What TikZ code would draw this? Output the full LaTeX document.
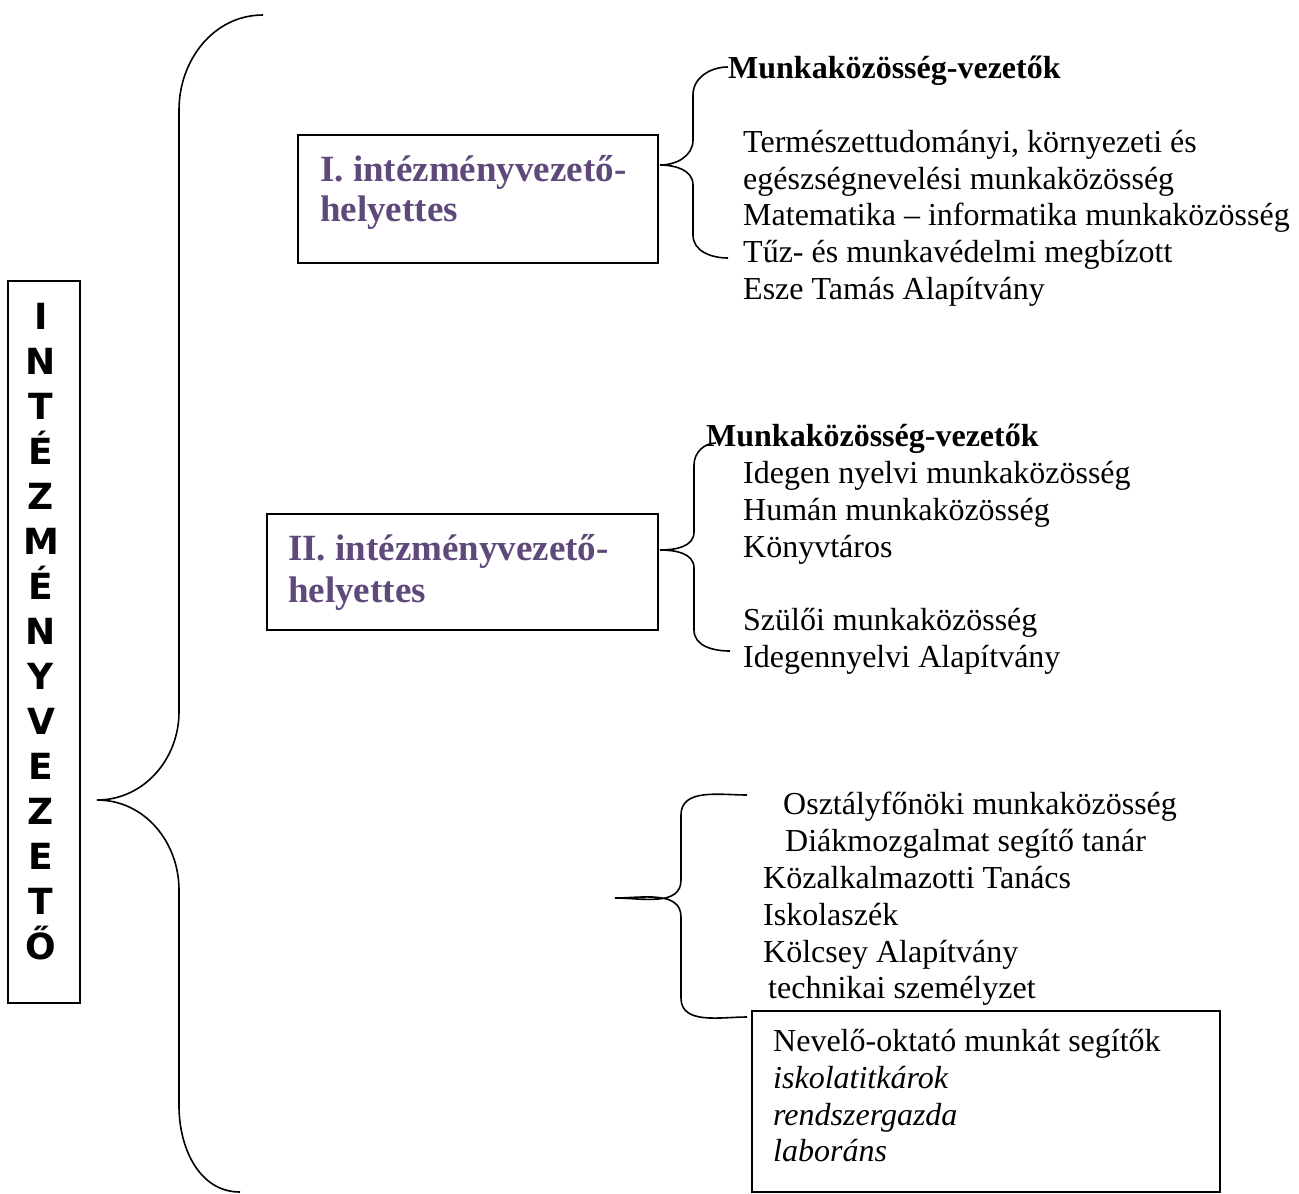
\documentclass[tikz,border=0pt]{standalone}
\usepackage{fontspec}
\setmainfont{Liberation Serif}
\newfontfamily\lettersfont{DejaVu Sans}
\definecolor{headpurple}{RGB}{95,73,122}
\begin{document}
\begin{tikzpicture}[x=1pt,y=-1pt,
  frame/.style={draw, line width=1.5pt, inner sep=0pt},
  brace/.style={line width=1.6pt},
  body/.style={font=\fontsize{32}{37}\selectfont, anchor=base west, inner sep=0pt},
  bodyit/.style={font=\fontsize{32}{37}\selectfont\itshape, anchor=base west, inner sep=0pt},
  head/.style={font=\fontsize{32}{37}\selectfont\bfseries, anchor=base west, inner sep=0pt},
  deputy/.style={font=\fontsize{37}{44}\selectfont\bfseries, text=headpurple, anchor=base west, inner sep=0pt},
  letter/.style={font=\fontsize{36}{36}\lettersfont\bfseries, anchor=base, inner sep=0pt}]
\useasboundingbox (0,0) rectangle (1299,1194);

% left box with vertical title
\node[frame, minimum width=72pt, minimum height=722pt] (leader) at (44,642) {};
\foreach \ch [count=\i from 0] in {I,N,T,É,Z,M,É,N,Y,V,E,Z,E,T,Ő}
  \node[letter] (L\i) at (41,329+45*\i) {\ch};

% big brace
\coordinate (bigtop) at (263,15);
\coordinate (bigtip) at (97,800);
\coordinate (bigbot) at (240,1192);
\draw[brace] (bigtop) to[out=180,in=90] (179,110) -- (179,712)
  to[out=-90,in=0] (bigtip) to[out=0,in=90] (179,890) -- (179,1106)
  to[out=-90,in=180] (bigbot);

% deputy I
\node[frame, minimum width=360pt, minimum height=128pt] (boxI) at (478,199) {};
\node[deputy] (depIa) at (320,181) {I. intézményvezető-};
\node[deputy] (depIb) at (320,221) {helyettes};

% deputy II
\node[frame, minimum width=391pt, minimum height=116pt] (boxII) at (462.5,572) {};
\node[deputy] (depIIa) at (288,560) {II. intézményvezető-};
\node[deputy] (depIIb) at (288,602) {helyettes};

% brace 1
\coordinate (b1top) at (728,67);
\coordinate (b1tip) at (660,165);
\coordinate (b1bot) at (728,258);
\draw[brace] (b1top) to[out=180,in=90] (693,95) -- (693,140)
  to[out=-90,in=0] (b1tip) to[out=0,in=90] (693,185) -- (693,235)
  to[out=-90,in=180] (b1bot);

\node[head] (g1h) at (728,78) {Munkaközösség-vezetők};
\node[body] (g1a) at (743,152) {Természettudományi, környezeti és};
\node[body] (g1b) at (743,189) {egészségnevelési munkaközösség};
\node[body] (g1c) at (743,225) {Matematika – informatika munkaközösség};
\node[body] (g1d) at (743,262) {Tűz- és munkavédelmi megbízott};
\node[body] (g1e) at (743,299) {Esze Tamás Alapítvány};

% brace 2
\coordinate (b2top) at (716,443);
\coordinate (b2tip) at (660,550);
\coordinate (b2bot) at (730,651);
\draw[brace] (b2top) to[out=180,in=90] (694,465) -- (694,532)
  to[out=-90,in=0] (b2tip) to[out=0,in=90] (694,568) -- (694,630)
  to[out=-90,in=180] (b2bot);

\node[head] (g2h) at (706,446) {Munkaközösség-vezetők};
\node[body] (g2a) at (743,483) {Idegen nyelvi munkaközösség};
\node[body] (g2b) at (743,520) {Humán munkaközösség};
\node[body] (g2c) at (743,557) {Könyvtáros};
\node[body] (g2d) at (743,630) {Szülői munkaközösség};
\node[body] (g2e) at (743,667) {Idegennyelvi Alapítvány};

% brace 3
\coordinate (b3top) at (747,795);
\coordinate (b3tip) at (615,898);
\coordinate (b3bot) at (747,1017);
\draw[brace] (b3top) to[out=180,in=90] (681,815) -- (681,880)
  to[out=-90,in=0] (b3tip) to[out=0,in=90] (681,917) -- (681,998)
  to[out=-90,in=180] (b3bot);

\node[body] (g3a) at (783,814) {Osztályfőnöki munkaközösség};
\node[body] (g3b) at (785,851) {Diákmozgalmat segítő tanár};
\node[body] (g3c) at (763,888) {Közalkalmazotti Tanács};
\node[body] (g3d) at (763,925) {Iskolaszék};
\node[body] (g3e) at (763,962) {Kölcsey Alapítvány};
\node[body] (g3f) at (768,998) {technikai személyzet};

% helpers box
\node[frame, minimum width=468pt, minimum height=181pt] (helpers) at (986,1101.5) {};
\node[body] (h1) at (773,1051) {Nevelő-oktató munkát segítők};
\node[bodyit] (h2) at (773,1088) {iskolatitkárok};
\node[bodyit] (h3) at (773,1125) {rendszergazda};
\node[bodyit] (h4) at (773,1161) {laboráns};
\end{tikzpicture}
\end{document}
